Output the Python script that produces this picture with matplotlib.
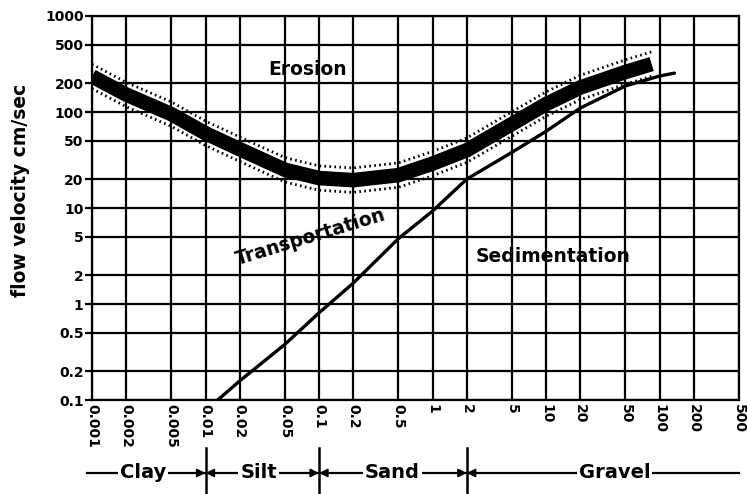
import matplotlib
matplotlib.use("Agg")
import matplotlib.pyplot as plt

# ---- data ----
x_ticks = [0.001, 0.002, 0.005, 0.01, 0.02, 0.05, 0.1, 0.2, 0.5, 1, 2, 5, 10, 20, 50, 100, 200, 500]
x_labels = ["0.001", "0.002", "0.005", "0.01", "0.02", "0.05", "0.1", "0.2", "0.5", "1", "2",
            "5", "10", "20", "50", "100", "200", "500"]
y_ticks = [0.1, 0.2, 0.5, 1, 2, 5, 10, 20, 50, 100, 200, 500, 1000]
y_labels = ["0.1", "0.2", "0.5", "1", "2", "5", "10", "20", "50", "100", "200", "500", "1000"]

erosion_size = [0.001, 0.002, 0.005, 0.01, 0.02, 0.05, 0.1, 0.2, 0.5, 1, 2, 5, 10, 20, 50, 85]
erosion_vel = [235, 152, 95, 60, 41, 25, 20.5, 19.5, 22, 29, 40, 75, 121, 180, 261, 316]

settling_size = [0.0128, 0.02, 0.05, 0.1, 0.2, 0.5, 1, 2, 5, 10, 20, 50, 100, 135]
settling_vel = [0.1, 0.158, 0.38, 0.81, 1.65, 4.8, 9.3, 20, 38, 63, 110, 187, 237, 254]

class_names = ["Clay", "Silt", "Sand", "Gravel"]
class_label_pos = [0.0028, 0.0294, 0.44, 40.0]
class_bounds = [0.01, 0.1, 2]

region_labels = ["Erosion", "Transportation", "Sedimentation"]
region_pos = [(0.08, 280), (0.085, 5.0), (11.5, 3.16)]
region_rot = [0, 17, 0]

# ---- figure ----
W, H = 748, 494
fig = plt.figure(figsize=(W / 100, H / 100), dpi=100)
fig.patch.set_facecolor("white")
L, R, T, B = 92, 739, 16, 400
ax = fig.add_axes([L / W, 1 - B / H, (R - L) / W, (B - T) / H])
ax.set_xscale("log")
ax.set_yscale("log")
ax.set_xlim(0.001, 500)
ax.set_ylim(0.1, 1000)
ax.minorticks_off()
ax.set_xticks(x_ticks)
ax.set_xticklabels(x_labels, rotation=-90, fontsize=10, fontweight="bold", va="top", ha="center")
ax.set_yticks(y_ticks)
ax.set_yticklabels(y_labels, fontsize=10, fontweight="bold")
ax.tick_params(axis="x", length=0, pad=3)
ax.tick_params(axis="y", length=5, width=1.6, pad=1)
ax.grid(True, which="major", color="black", lw=1.6)
ax.set_axisbelow(True)
for s in ax.spines.values():
    s.set_linewidth(1.6)

# erosion band: thick core with dotted edges
ax.plot(erosion_size, erosion_vel, color="black", lw=10.5, solid_capstyle="butt",
        solid_joinstyle="round", zorder=3)
f = 1.34
dot_style = dict(color="black", lw=2.0, linestyle=(0, (0.6, 1.2)), zorder=3)
ax.plot(erosion_size, [v * f for v in erosion_vel], **dot_style)
ax.plot(erosion_size, [v / f for v in erosion_vel], **dot_style)

# settling line
ax.plot(settling_size, settling_vel, color="black", lw=2.4, solid_capstyle="round", zorder=3)

for txt, (px, py), rot in zip(region_labels, region_pos, region_rot):
    ax.text(px, py, txt, fontsize=13.5, fontweight="bold", ha="center", va="center",
            rotation=rot, rotation_mode="anchor", zorder=4)

fig.text(21 / W, 1 - 190 / H, "flow velocity cm/sec", rotation=90, fontsize=13.5,
         fontweight="bold", ha="center", va="center")

# grain class bar below
ax2 = fig.add_axes([L / W, 0, (R - L) / W, 46 / H])
ax2.set_xscale("log")
ax2.set_xlim(0.001, 500)
ax2.set_ylim(0, 1)
ax2.axis("off")
yl = 0.457
ax2.plot([0.0009, 500], [yl, yl], color="black", lw=1.6, clip_on=False)
for name, xp in zip(class_names, class_label_pos):
    ax2.text(xp, yl, name, fontsize=14, fontweight="bold", ha="center", va="center",
             bbox=dict(facecolor="white", edgecolor="none", pad=1.5))
for b in class_bounds:
    ax2.plot([b, b], [0, 1], color="black", lw=1.8, clip_on=False)
    for off in (-8, 8):
        ax2.annotate("", xy=(b, yl), xytext=(off, 0), textcoords="offset points",
                     arrowprops=dict(arrowstyle="-|>,head_length=0.5,head_width=0.25",
                                     color="black", lw=1.2, shrinkA=0, shrinkB=0))

fig.savefig("out.png", dpi=100, facecolor="white")
